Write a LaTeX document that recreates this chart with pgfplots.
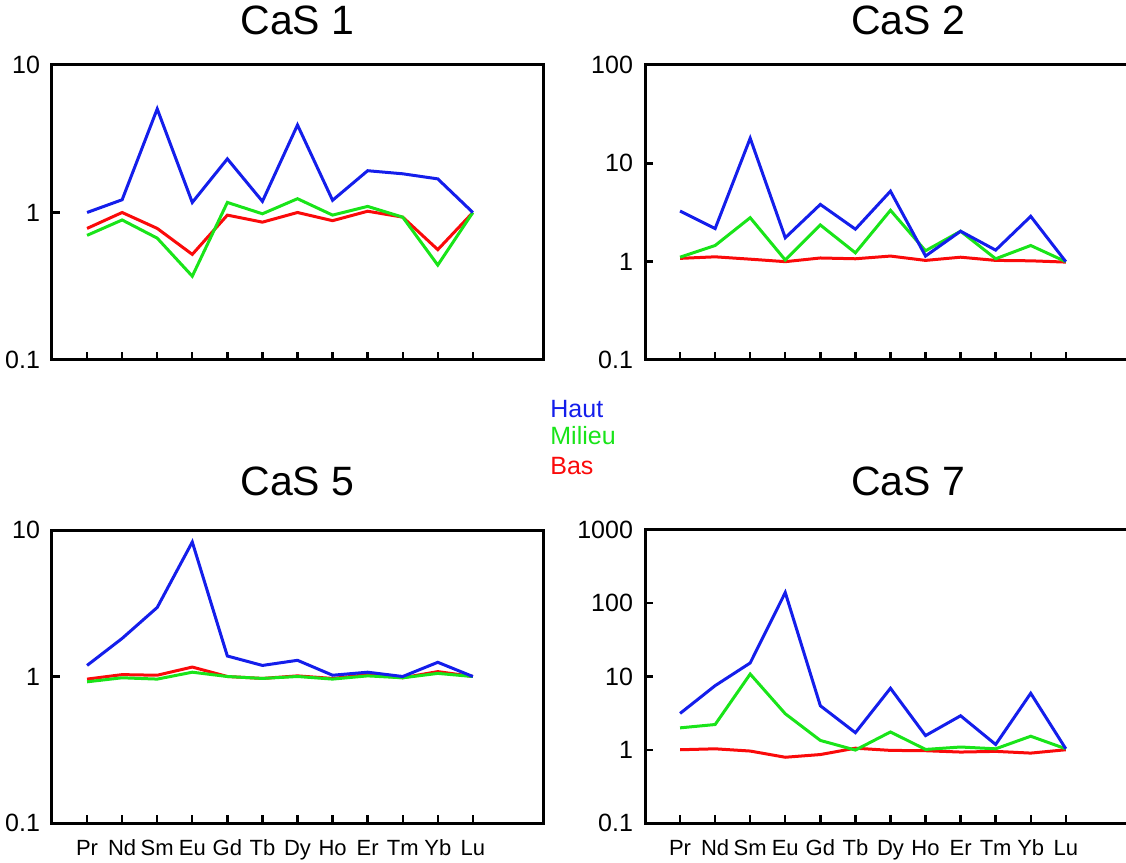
\documentclass[border=0pt]{standalone}
\usepackage{pgfplots}
\pgfplotsset{compat=1.18}
\usepackage{pgfplotstable}
\usepackage{fontspec}
\setmainfont{Liberation Sans}
\definecolor{haut}{RGB}{20,30,235}
\definecolor{milieu}{RGB}{25,228,25}
\definecolor{bas}{RGB}{250,10,10}

\pgfplotstableread{
x haut milieu bas
1 1.00 0.70 0.78
2 1.22 0.89 1.00
3 5.04 0.67 0.78
4 1.17 0.37 0.52
5 2.31 1.17 0.96
6 1.19 0.98 0.86
7 3.92 1.24 1.00
8 1.21 0.96 0.88
9 1.92 1.10 1.02
10 1.83 0.93 0.93
11 1.69 0.44 0.56
12 1.00 1.00 1.00
}\casone
\pgfplotstableread{
x haut milieu bas
1 3.27 1.11 1.08
2 2.17 1.46 1.12
3 18.0 2.80 1.06
4 1.75 1.04 1.00
5 3.82 2.36 1.09
6 2.14 1.23 1.07
7 5.21 3.33 1.14
8 1.14 1.29 1.03
9 2.04 2.04 1.11
10 1.31 1.07 1.03
11 2.89 1.46 1.02
12 1.00 1.00 0.99
}\castwo
\pgfplotstableread{
x haut milieu bas
1 1.19 0.92 0.96
2 1.82 0.98 1.03
3 2.96 0.96 1.02
4 8.28 1.07 1.16
5 1.38 1.00 1.00
6 1.19 0.97 0.97
7 1.29 1.00 1.01
8 1.02 0.96 0.97
9 1.07 1.01 1.03
10 1.00 0.98 0.98
11 1.25 1.05 1.08
12 1.00 1.00 1.00
}\casfive
\pgfplotstableread{
x haut milieu bas
1 3.13 1.99 1.00
2 7.5 2.21 1.03
3 15.3 10.8 0.96
4 140 3.1 0.79
5 3.99 1.34 0.86
6 1.71 0.99 1.05
7 6.91 1.75 0.98
8 1.56 1.01 0.97
9 2.91 1.09 0.93
10 1.18 1.03 0.95
11 5.9 1.53 0.90
12 1.03 1.03 1.00
}\casseven

\pgfplotsset{
  casstyle/.style={
    scale only axis,
    xmin=0,
    xtick={1,...,12},
    xtick pos=bottom, ytick pos=left,
    tick align=inside,
    major tick length=4pt,
    yminorticks=false,
    axis line style={line width=1.5pt},
    tick style={black, line width=1.2pt},
    yticklabel style={font=\fontsize{12.5}{14}\selectfont, xshift=-2.5pt},
    xticklabel style={font=\fontsize{11}{13}\selectfont, text height=8.5pt, text depth=2.5pt, yshift=-4pt},
    title style={font=\fontsize{20.5}{24}\selectfont, anchor=base, at={(0.5,1)}},
    every axis plot/.append style={line width=1.5pt, mark=none},
  },
  notop/.style={xticklabels={}},
  bottomlab/.style={xticklabels={Pr,Nd,Sm,Eu,Gd,Tb,Dy,Ho,Er,Tm,Yb,Lu}},
}

\begin{document}
\begin{tikzpicture}
% CaS 1
\begin{axis}[ymode=log, casstyle, notop, anchor=south west, at={(26pt,251.5pt)},
  width=245.5pt, height=147.5pt, xmax=14,
  ymin=0.1, ymax=10, ytick={0.1,1,10}, yticklabels={0.1,1,10},
  title={CaS 1}, title style={yshift=9pt}]
\addplot[bas] table[x=x,y=bas] {\casone};
\addplot[milieu] table[x=x,y=milieu] {\casone};
\addplot[haut] table[x=x,y=haut] {\casone};
\end{axis}
% CaS 2
\begin{axis}[ymode=log, casstyle, notop, anchor=south west, at={(322.5pt,251.5pt)},
  width=263pt, height=147.5pt, xmax=15,
  ymin=0.1, ymax=100, ytick={0.1,1,10,100}, yticklabels={0.1,1,10,100},
  title={CaS 2}, title style={yshift=9pt}]
\addplot[bas] table[x=x,y=bas] {\castwo};
\addplot[milieu] table[x=x,y=milieu] {\castwo};
\addplot[haut] table[x=x,y=haut] {\castwo};
\end{axis}
% CaS 5
\begin{axis}[ymode=log, casstyle, bottomlab, anchor=south west, at={(26pt,20pt)},
  width=245.5pt, height=146.5pt, xmax=14,
  ymin=0.1, ymax=10, ytick={0.1,1,10}, yticklabels={0.1,1,10},
  title={CaS 5}, title style={yshift=11.5pt}]
\addplot[bas] table[x=x,y=bas] {\casfive};
\addplot[milieu] table[x=x,y=milieu] {\casfive};
\addplot[haut] table[x=x,y=haut] {\casfive};
\end{axis}
% CaS 7
\begin{axis}[ymode=log, casstyle, bottomlab, anchor=south west, at={(322.5pt,20pt)},
  width=263pt, height=146.5pt, xmax=15,
  ymin=0.1, ymax=1000, ytick={0.1,1,10,100,1000}, yticklabels={0.1,1,10,100,1000},
  title={CaS 7}, title style={yshift=11.5pt}]
\addplot[bas] table[x=x,y=bas] {\casseven};
\addplot[milieu] table[x=x,y=milieu] {\casseven};
\addplot[haut] table[x=x,y=haut] {\casseven};
\end{axis}
% legend
\node[anchor=base west, text=haut, font=\fontsize{12.5}{15}\selectfont, inner sep=0pt] at (275pt,222.65pt) {Haut};
\node[anchor=base west, text=milieu, font=\fontsize{12.5}{15}\selectfont, inner sep=0pt] at (275pt,209pt) {Milieu};
\node[anchor=base west, text=bas, font=\fontsize{12.5}{15}\selectfont, inner sep=0pt] at (275pt,194pt) {Bas};
\pgfresetboundingbox
\path[use as bounding box] (0pt,0pt) rectangle (563pt,431.5pt);
\end{tikzpicture}
\end{document}
